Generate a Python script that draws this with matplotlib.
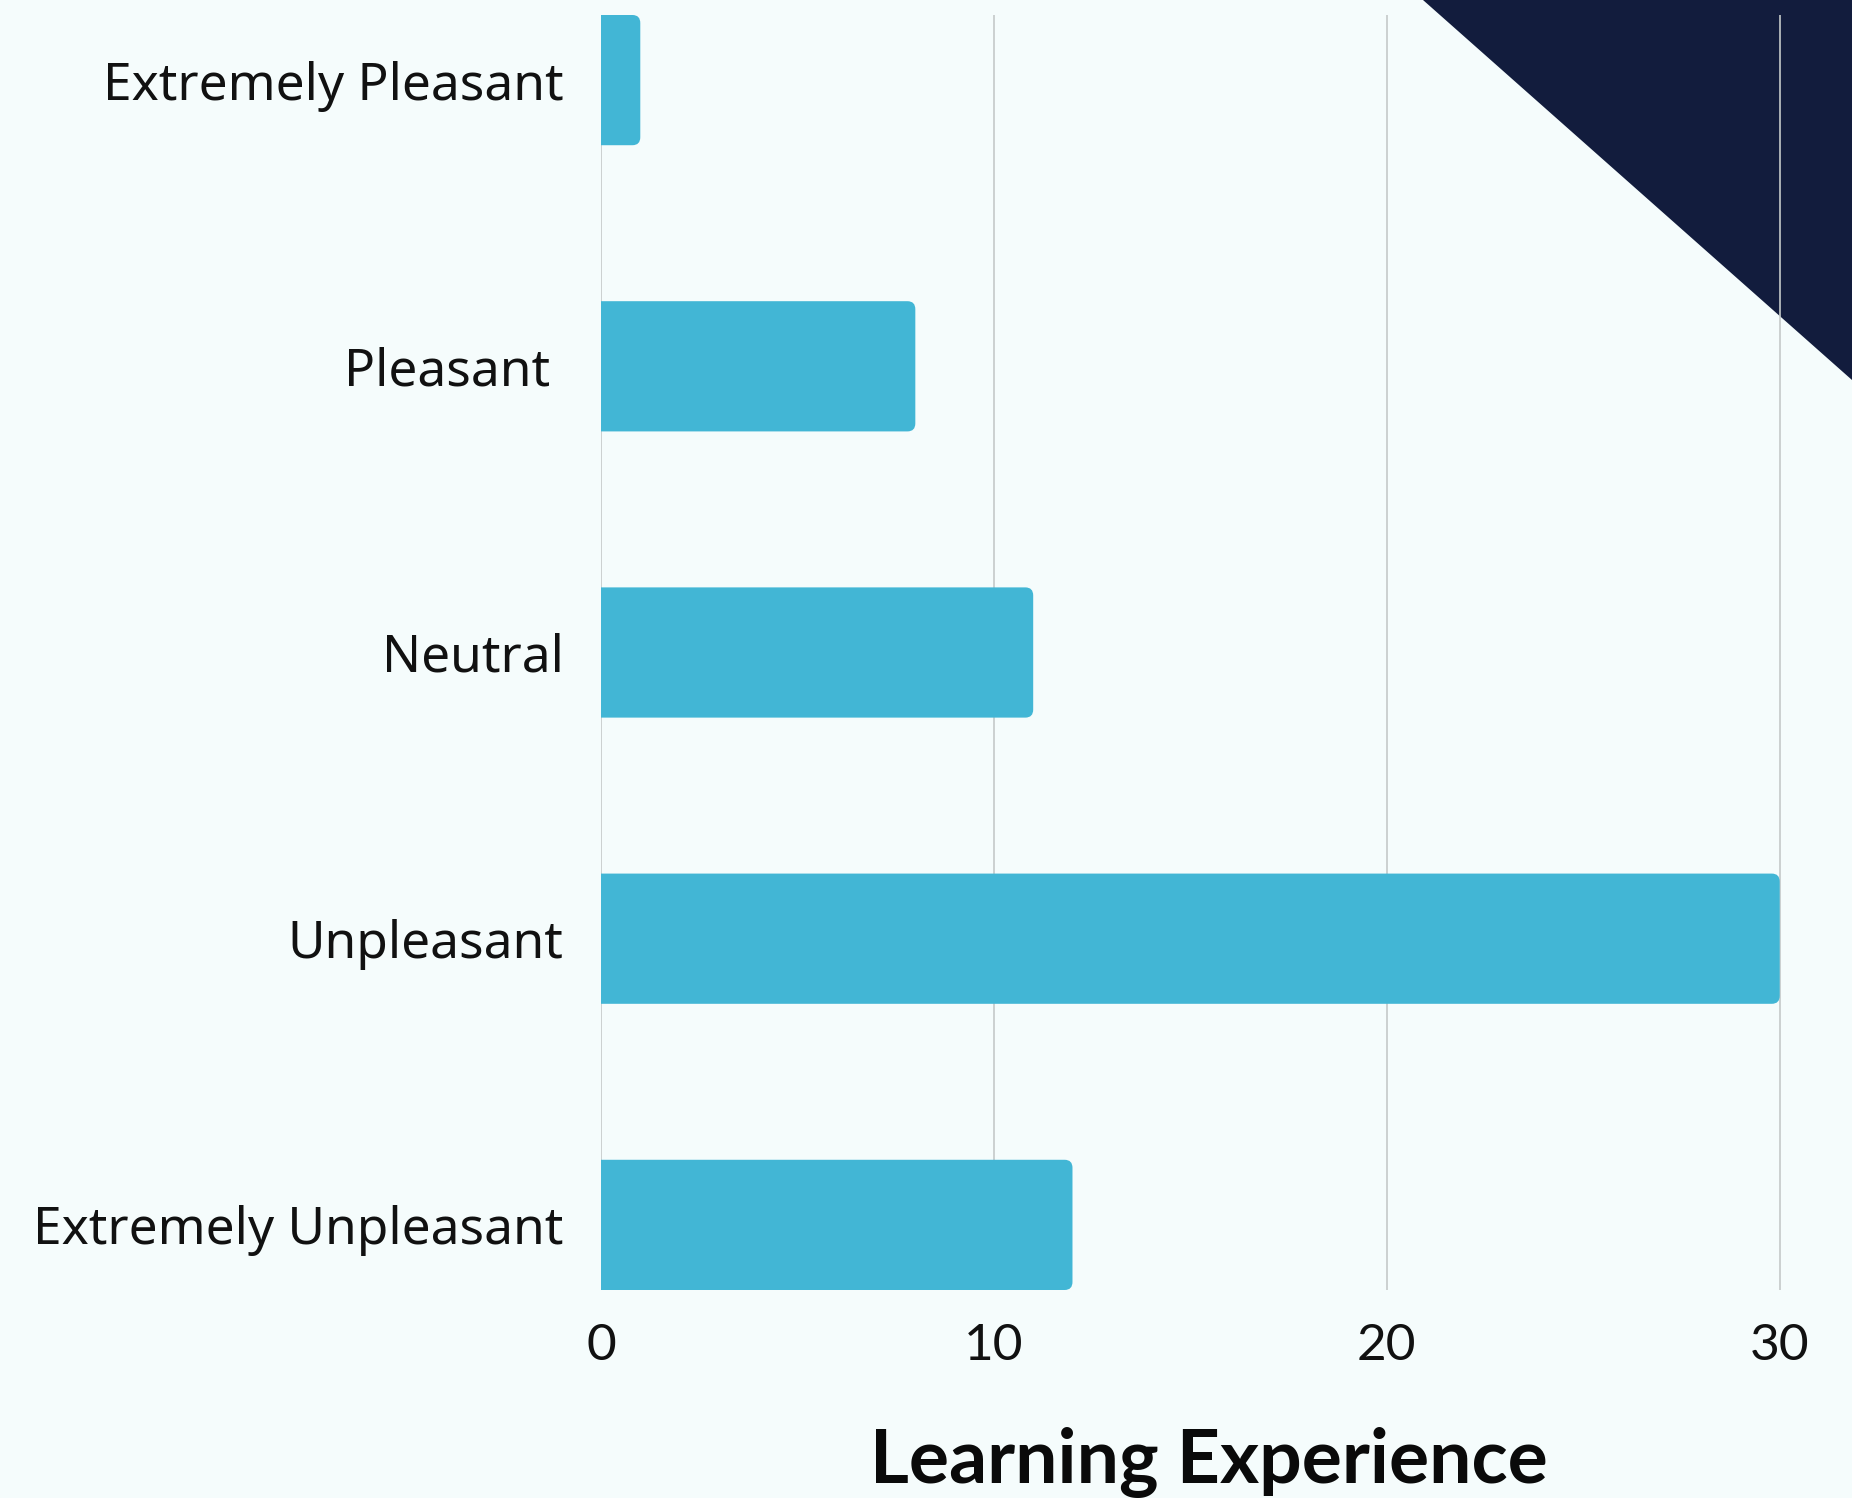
import matplotlib
matplotlib.use("Agg")
import matplotlib.pyplot as plt
from matplotlib.patches import FancyBboxPatch, Polygon

categories = ["Extremely Pleasant", "Pleasant ", "Neutral", "Unpleasant", "Extremely Unpleasant"]
values = [1, 8, 11, 30, 12]
xticks = [0, 10, 20, 30]
xlabel = "Learning Experience"

BG = "#F5FCFC"
BAR = "#42B6D5"
NAVY = "#121C3D"
GRID = "#C4C9C9"

W, H = 1852, 1498
fig = plt.figure(figsize=(W / 100, H / 100), dpi=100, facecolor=BG)

# decorative triangle in top-right corner (figure coords)
tri = Polygon([(1423 / W, 1.0), (1.0, 1.0), (1.0, 1 - 380 / H)], closed=True,
              transform=fig.transFigure, facecolor=NAVY, edgecolor="none", zorder=0)
fig.patches.append(tri)

left, right = 601 / W, 1819 / W
top, bottom = 1 - 15 / H, 1 - 1290 / H
ax = fig.add_axes([left, bottom, right - left, top - bottom], zorder=1)
ax.set_facecolor("none")

ypos = list(range(len(categories)))
bh = 0.455
bars = ax.barh(ypos, values, height=bh, color=BAR, zorder=2)
ax.set_xlim(0, 31)
ax.set_ylim(len(categories) - 1 + bh / 2, -bh / 2)

# rounded right corners (left side extends past the axis and is clipped)
xr = 0.2
yr = 0.028
ext = 1.0
for b in bars:
    x0, y0 = b.get_x(), b.get_y()
    w, h = b.get_width(), b.get_height()
    b.set_visible(False)
    p = FancyBboxPatch((x0 - ext, y0), w + ext, h,
                       boxstyle=f"round,pad=0,rounding_size={xr}",
                       mutation_aspect=yr / xr, facecolor=BAR, edgecolor="none", zorder=2)
    ax.add_patch(p)

ax.set_xticks(xticks)
ax.set_xticklabels([str(t) for t in xticks], fontsize=37, family="Lato", color="#111111")
ax.set_yticks(ypos)
ax.set_yticklabels(categories, fontsize=37, family="Noto Sans", color="#111111")
ax.tick_params(axis="both", length=0)
ax.tick_params(axis="x", pad=24)
ax.tick_params(axis="y", pad=27)
ax.grid(axis="x", color=GRID, linewidth=1.2, zorder=1)
ax.set_axisbelow(True)
for s in ax.spines.values():
    s.set_visible(False)

fig.text(1209 / W, 1 - 1463 / H, xlabel, ha="center", va="center",
         fontsize=54, fontweight="bold", family="Lato", color="#0A0A0A")

fig.savefig("out.png", dpi=100, facecolor=BG)
